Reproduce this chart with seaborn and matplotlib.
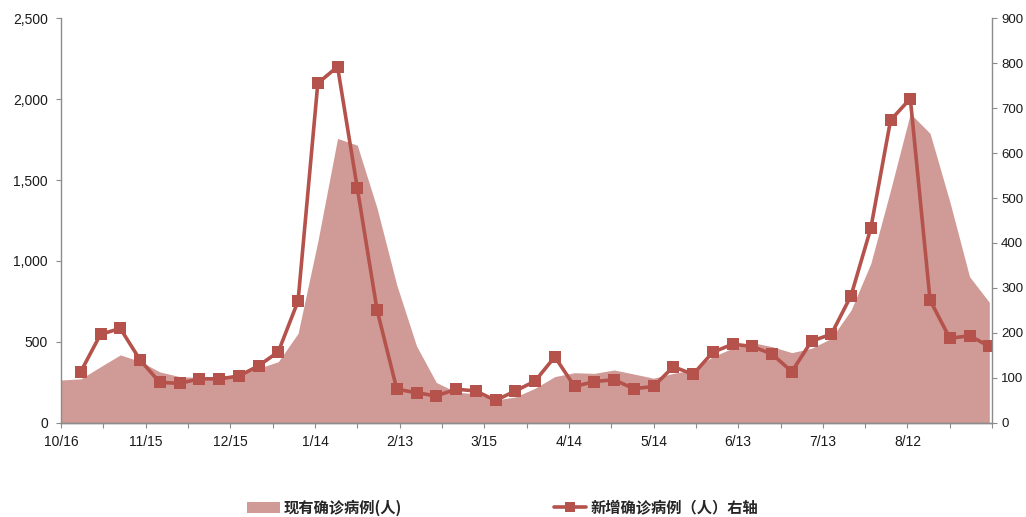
import pandas as pd
import matplotlib.pyplot as plt
from matplotlib.patches import Patch
from matplotlib.lines import Line2D
import seaborn as sns

# 周度数据（2021/10/16 - 2022/09/10）
week_dates = pd.date_range('2021-10-16', periods=48, freq='7D')

# 现有确诊病例（人），左轴
current_cases = [265, 272, 347, 420, 380, 315, 286, 280, 285, 300,
                 337, 378, 553, 1120, 1757, 1715, 1326, 851, 475, 250,
                 190, 180, 142, 160, 214, 286, 310, 306, 327, 302,
                 276, 306, 327, 409, 461, 496, 471, 434, 461, 522,
                 697, 985, 1438, 1911, 1788, 1366, 903, 745]

# 新增确诊病例（人），右轴，从 10/23 开始
new_cases = [114, 197, 210, 140, 90, 88, 98, 98, 104, 127,
             158, 271, 755, 792, 522, 251, 75, 67, 60, 75,
             71, 50, 71, 93, 147, 81, 92, 96, 76, 81,
             125, 108, 157, 175, 170, 153, 114, 182, 197, 283,
             433, 673, 721, 273, 188, 194, 170]

x_labels = ['10/16', '11/15', '12/15', '1/14', '2/13', '3/15',
            '4/14', '5/14', '6/13', '7/13', '8/12', '']

area_label = '现有确诊病例(人)'
line_label = '新增确诊病例（人）右轴'

area_color = '#D09B97'
line_color = '#B5524C'

df_area = pd.DataFrame({'date': week_dates, 'cases': current_cases})
df_line = pd.DataFrame({'date': week_dates[1:], 'cases': new_cases})

sns.set_style('white')
plt.rcParams['font.family'] = ['Liberation Sans', 'Noto Sans CJK SC', 'DejaVu Sans']

fig = plt.figure(figsize=(10.26, 5.17), dpi=100)
ax = fig.add_axes([0.0595, 0.182, 0.9075, 0.783])

ax.fill_between(df_area['date'], df_area['cases'], color=area_color, linewidth=0)
ax.set_ylim(0, 2500)
ax.set_yticks(range(0, 2501, 500))
ax.yaxis.set_major_formatter(plt.FuncFormatter(lambda v, p: f'{int(v):,}'))

ax2 = ax.twinx()
sns.lineplot(data=df_line, x='date', y='cases', ax=ax2, color=line_color,
             linewidth=2.6, marker='s', markersize=8.5, markeredgewidth=0)
ax2.set_ylim(0, 900)
ax2.set_yticks(range(0, 901, 100))

start = pd.Timestamp('2021-10-16')
ax.set_xlim(start, start + pd.Timedelta(days=330))
ax.set_xticks([start + pd.Timedelta(days=30 * i) for i in range(12)])
ax.set_xticklabels(x_labels)
ax.set_xticks([start + pd.Timedelta(days=15 + 30 * i) for i in range(11)], minor=True)

for a in (ax, ax2):
    a.set_xlabel('')
    a.set_ylabel('')
    a.spines['top'].set_visible(False)
    for s in ('left', 'right', 'bottom'):
        a.spines[s].set_color('#8C8C8C')
        a.spines[s].set_linewidth(1.0)
    a.tick_params(axis='both', which='both', direction='out', length=3.5,
                  width=0.8, color='#8C8C8C', labelsize=10, labelcolor='#1A1A1A')
ax.spines['right'].set_visible(False)
ax2.spines['left'].set_visible(False)
ax.tick_params(axis='y', left=True, pad=6)
ax.tick_params(axis='x', which='both', bottom=True, pad=5)
ax2.tick_params(axis='y', right=True, pad=3, labelsize=9.5)

handles = [Patch(facecolor=area_color, edgecolor='none'),
           Line2D([0], [0], color=line_color, linewidth=2.6, marker='s',
                  markersize=7, markeredgewidth=0)]
fig.legend(handles, [area_label, line_label], loc='center',
           bbox_to_anchor=(0.49, 0.018), ncol=2, frameon=False,
           columnspacing=10, handlelength=2.1, handletextpad=0.25,
           prop={'family': ['Noto Sans CJK SC'], 'weight': 'bold', 'size': 11})

fig.savefig('out.png', dpi=100)
